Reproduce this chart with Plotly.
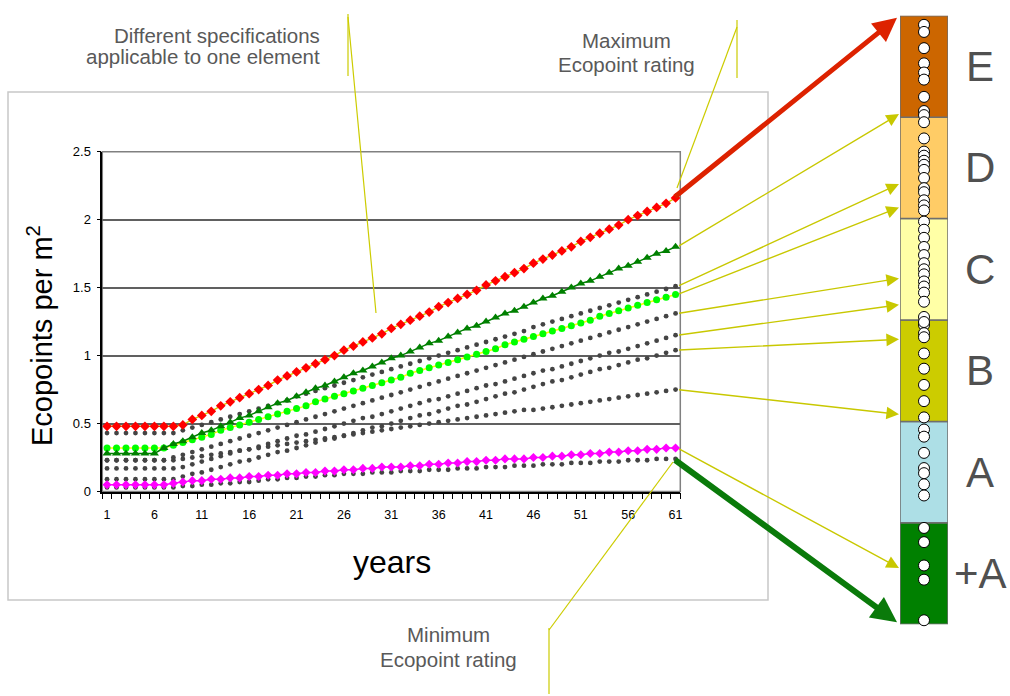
import plotly.graph_objects as go

# ---------------- data ----------------
years = list(range(1, 62))
x_tick_labels = [1, 6, 11, 16, 21, 26, 31, 36, 41, 46, 51, 56, 61]
y_ticks = [0, 0.5, 1, 1.5, 2, 2.5]

red_max = [0.48, 0.48, 0.48, 0.48, 0.48, 0.48, 0.48, 0.48, 0.49, 0.53,
           0.56, 0.59, 0.63, 0.66, 0.69, 0.72, 0.75, 0.78, 0.82, 0.85,
           0.88, 0.91, 0.94, 0.97, 1.00, 1.04, 1.07, 1.10, 1.13, 1.16,
           1.20, 1.23, 1.26, 1.29, 1.32, 1.36, 1.39, 1.42, 1.45, 1.48,
           1.52, 1.55, 1.58, 1.61, 1.64, 1.68, 1.71, 1.74, 1.77, 1.80,
           1.84, 1.87, 1.90, 1.93, 1.96, 2.00, 2.03, 2.06, 2.09, 2.12, 2.16]

green_tri = [0.28, 0.28, 0.28, 0.28, 0.28, 0.28, 0.32, 0.35, 0.37, 0.40,
             0.43, 0.45, 0.48, 0.51, 0.54, 0.56, 0.59, 0.62, 0.65, 0.67,
             0.70, 0.73, 0.76, 0.78, 0.81, 0.84, 0.87, 0.89, 0.92, 0.95,
             0.98, 1.00, 1.03, 1.06, 1.09, 1.11, 1.14, 1.17, 1.20, 1.22,
             1.25, 1.28, 1.31, 1.33, 1.36, 1.39, 1.42, 1.44, 1.47, 1.50,
             1.53, 1.55, 1.58, 1.61, 1.64, 1.66, 1.69, 1.72, 1.75, 1.77, 1.80]

lime_dot = [0.32, 0.32, 0.32, 0.32, 0.32, 0.32, 0.32, 0.34, 0.36, 0.38,
            0.40, 0.42, 0.45, 0.47, 0.49, 0.51, 0.53, 0.55, 0.57, 0.59,
            0.61, 0.63, 0.66, 0.68, 0.70, 0.72, 0.74, 0.76, 0.78, 0.80,
            0.82, 0.84, 0.87, 0.89, 0.91, 0.93, 0.95, 0.97, 0.99, 1.01,
            1.03, 1.05, 1.08, 1.10, 1.12, 1.14, 1.16, 1.18, 1.20, 1.22,
            1.24, 1.26, 1.29, 1.31, 1.33, 1.35, 1.37, 1.39, 1.41, 1.43, 1.45]

magenta_min = [0.05, 0.05, 0.05, 0.05, 0.05, 0.05, 0.05, 0.06, 0.07, 0.08,
               0.08, 0.09, 0.09, 0.10, 0.10, 0.11, 0.11, 0.12, 0.12, 0.13,
               0.13, 0.14, 0.14, 0.15, 0.15, 0.16, 0.16, 0.17, 0.17, 0.18,
               0.18, 0.18, 0.19, 0.19, 0.20, 0.20, 0.21, 0.21, 0.22, 0.22,
               0.23, 0.23, 0.24, 0.24, 0.24, 0.25, 0.25, 0.26, 0.26, 0.27,
               0.27, 0.28, 0.28, 0.29, 0.29, 0.30, 0.30, 0.31, 0.31, 0.32, 0.32]

grey_1 = [0.43, 0.43, 0.43, 0.43, 0.43, 0.43, 0.43, 0.43, 0.45, 0.47,
          0.49, 0.51, 0.53, 0.55, 0.57, 0.59, 0.61, 0.63, 0.65, 0.67,
          0.70, 0.72, 0.74, 0.76, 0.78, 0.80, 0.82, 0.84, 0.86, 0.88,
          0.90, 0.92, 0.94, 0.96, 0.98, 1.00, 1.02, 1.04, 1.06, 1.08,
          1.10, 1.12, 1.14, 1.16, 1.18, 1.21, 1.23, 1.25, 1.27, 1.29,
          1.31, 1.33, 1.35, 1.37, 1.39, 1.41, 1.43, 1.45, 1.47, 1.49, 1.51]

grey_2 = [0.23, 0.23, 0.23, 0.23, 0.23, 0.23, 0.23, 0.25, 0.27, 0.29,
          0.31, 0.33, 0.35, 0.37, 0.39, 0.41, 0.43, 0.45, 0.47, 0.49,
          0.51, 0.53, 0.55, 0.57, 0.59, 0.61, 0.63, 0.65, 0.67, 0.69,
          0.71, 0.73, 0.75, 0.77, 0.79, 0.81, 0.83, 0.85, 0.87, 0.89,
          0.91, 0.93, 0.95, 0.97, 0.99, 1.01, 1.03, 1.05, 1.07, 1.09,
          1.11, 1.13, 1.15, 1.17, 1.19, 1.21, 1.23, 1.25, 1.27, 1.29, 1.31]

grey_3 = [0.17, 0.17, 0.17, 0.17, 0.17, 0.17, 0.17, 0.17, 0.18, 0.20,
          0.22, 0.24, 0.26, 0.28, 0.30, 0.31, 0.33, 0.35, 0.37, 0.39,
          0.41, 0.42, 0.44, 0.46, 0.48, 0.50, 0.52, 0.54, 0.55, 0.57,
          0.59, 0.61, 0.63, 0.65, 0.67, 0.68, 0.70, 0.72, 0.74, 0.76,
          0.78, 0.79, 0.81, 0.83, 0.85, 0.87, 0.89, 0.90, 0.92, 0.94,
          0.96, 0.98, 1.00, 1.02, 1.03, 1.05, 1.07, 1.09, 1.11, 1.13, 1.15]

grey_4 = [0.09, 0.09, 0.09, 0.09, 0.09, 0.09, 0.09, 0.09, 0.11, 0.13,
          0.14, 0.16, 0.18, 0.20, 0.22, 0.23, 0.25, 0.27, 0.29, 0.30,
          0.32, 0.34, 0.36, 0.38, 0.39, 0.41, 0.43, 0.45, 0.47, 0.48,
          0.50, 0.52, 0.54, 0.56, 0.57, 0.59, 0.61, 0.63, 0.64, 0.66,
          0.68, 0.70, 0.72, 0.73, 0.75, 0.77, 0.79, 0.81, 0.82, 0.84,
          0.86, 0.88, 0.90, 0.91, 0.93, 0.95, 0.97, 0.98, 1.00, 1.02, 1.04]

grey_5 = [0.23, 0.23, 0.23, 0.23, 0.23, 0.23, 0.23, 0.23, 0.24, 0.25,
          0.26, 0.27, 0.28, 0.29, 0.30, 0.31, 0.32, 0.33, 0.34, 0.35,
          0.36, 0.37, 0.38, 0.39, 0.40, 0.41, 0.42, 0.43, 0.44, 0.45,
          0.46, 0.47, 0.48, 0.49, 0.50, 0.51, 0.52, 0.53, 0.54, 0.55,
          0.56, 0.57, 0.58, 0.59, 0.60, 0.60, 0.61, 0.62, 0.63, 0.64,
          0.65, 0.66, 0.67, 0.68, 0.69, 0.70, 0.71, 0.72, 0.73, 0.74, 0.75]

grey_6 = [0.03, 0.03, 0.03, 0.03, 0.03, 0.03, 0.03, 0.03, 0.04, 0.04,
          0.05, 0.05, 0.06, 0.06, 0.07, 0.07, 0.08, 0.09, 0.09, 0.10,
          0.10, 0.11, 0.11, 0.12, 0.12, 0.13, 0.13, 0.13, 0.14, 0.14,
          0.14, 0.15, 0.15, 0.15, 0.16, 0.16, 0.16, 0.17, 0.17, 0.17,
          0.18, 0.18, 0.18, 0.19, 0.19, 0.19, 0.20, 0.20, 0.20, 0.21,
          0.21, 0.21, 0.22, 0.22, 0.22, 0.23, 0.23, 0.23, 0.24, 0.24, 0.24]

grey_series = [grey_1, grey_2, grey_3, grey_4, grey_5, grey_6]

# rating scale (bar on the right), one unit per class, bottom to top
classes = ["+A", "A", "B", "C", "D", "E"]
class_colors = ["#008000", "#ADDFE6", "#CCCC00", "#FFFFA6", "#FFCC66", "#CC6600"]

# white circles on the rating scale (rating units)
ratings = [6.03, 5.91, 5.84, 5.68, 5.53, 5.44, 5.37, 5.20, 5.06, 5.02, 4.95,
           4.79, 4.66, 4.62, 4.57, 4.53, 4.48, 4.40, 4.30, 4.26, 4.18, 4.13,
           4.08, 3.97, 3.89, 3.81, 3.72, 3.64, 3.56, 3.50, 3.45, 3.38, 3.33,
           3.27, 3.18, 3.03, 2.95, 2.98, 2.87, 2.83, 2.67, 2.52, 2.36, 2.20,
           2.04, 1.92, 1.85, 1.69, 1.54, 1.49, 1.38, 1.27, 0.95, 0.81, 0.58,
           0.44, 0.04]

# where each series' arrow lands on the rating scale (rating units)
thin_arrow_ends = [(green_tri, 5.03), (grey_1, 4.34), (lime_dot, 4.11),
                   (grey_2, 3.41), (grey_3, 3.15), (grey_4, 2.81),
                   (grey_5, 2.07), (magenta_min, 0.555)]
max_arrow_end = 5.98
min_arrow_end = 0.02

# ---------------- layout geometry ----------------
W, H = 1010, 696
PX0, PX1 = 102.3, 680.3      # main plot x pixels
PY0, PY1 = 491.5, 151.7      # main plot y pixels (0 and 2.5)
BX0, BX1 = 900.0, 948.0      # rating bar x pixels
BY0, BY1 = 624.3, 15.7       # rating bar y pixels (0 and 6)
XR = [0.5, 61.5]
YR = [0, 2.5]
BR = [0, 6]


def main_px(k, v):
    return (PX0 + (k - XR[0]) / (XR[1] - XR[0]) * (PX1 - PX0),
            PY0 - (v - YR[0]) / (YR[1] - YR[0]) * (PY0 - PY1))


def bar_py(r):
    return BY0 - (r - BR[0]) / (BR[1] - BR[0]) * (BY0 - BY1)


def px(x):
    return x / W


def py(y):
    return 1 - y / H


FONT = "Arial, Liberation Sans, sans-serif"
GREY_TXT = "#595959"
CALLOUT = "#CCCC00"

fig = go.Figure()

# grey dotted series
for g in grey_series:
    fig.add_trace(go.Scatter(x=years, y=g, mode="markers",
                             marker=dict(color="#444444", size=4.8),
                             xaxis="x", yaxis="y", showlegend=False))

fig.add_trace(go.Scatter(x=years, y=magenta_min, mode="lines+markers",
                         line=dict(color="#FF00FF", width=1.5),
                         marker=dict(symbol="diamond", color="#FF00FF", size=7),
                         showlegend=False))
fig.add_trace(go.Scatter(x=years, y=lime_dot, mode="lines+markers",
                         line=dict(color="#FFFF00", width=1.5),
                         marker=dict(symbol="circle", color="#00FF00", size=7),
                         showlegend=False))
fig.add_trace(go.Scatter(x=years, y=green_tri, mode="lines+markers",
                         line=dict(color="#008000", width=1.5),
                         marker=dict(symbol="triangle-up", color="#008000", size=8),
                         showlegend=False))
fig.add_trace(go.Scatter(x=years, y=red_max, mode="lines+markers",
                         line=dict(color="#D8C800", width=1.5),
                         marker=dict(symbol="diamond", color="#FF0000", size=7.5),
                         showlegend=False))

# rating bar
fig.add_trace(go.Bar(x=[0.5] * len(classes), y=[1] * len(classes),
                     base=list(range(len(classes))), width=1,
                     marker=dict(color=class_colors,
                                 line=dict(color="#6e6e6e", width=1.5)),
                     xaxis="x2", yaxis="y2", showlegend=False))
fig.add_trace(go.Scatter(x=[0.5] * len(ratings), y=ratings, mode="markers",
                         marker=dict(color="white", size=11,
                                     line=dict(color="black", width=1)),
                         xaxis="x2", yaxis="y2", cliponaxis=False,
                         showlegend=False))

shapes = []
# outer chart box
shapes.append(dict(type="rect", xref="paper", yref="paper",
                   x0=px(8), x1=px(768), y0=py(600), y1=py(92),
                   line=dict(color="#C8C8C8", width=1.5), layer="below",
                   fillcolor="white"))
# plot area border
shapes.append(dict(type="rect", xref="x domain", yref="y domain",
                   x0=0, x1=1, y0=0, y1=1,
                   line=dict(color="#808080", width=1.5), layer="below"))

# callout lines
callouts = [((348, 14), (348, 76)), ((348, 17), (376, 313)),
            ((737, 20), (737, 78)), ((737, 27), (677, 188)),
            ((549, 628), (549, 694)), ((549, 630), (673, 462))]
for (a, b) in callouts:
    shapes.append(dict(type="line", xref="paper", yref="paper",
                       x0=px(a[0]), y0=py(a[1]), x1=px(b[0]), y1=py(b[1]),
                       line=dict(color=CALLOUT, width=1.2)))

annotations = []


def arrow(tail, head, color, width, size):
    return dict(x=px(head[0]), y=py(head[1]), xref="paper", yref="paper",
                ax=tail[0] - head[0], ay=tail[1] - head[1],
                axref="pixel", ayref="pixel", text="", showarrow=True,
                arrowhead=2, arrowsize=size, arrowwidth=width,
                arrowcolor=color, standoff=0, startstandoff=0)


for series, r in thin_arrow_ends:
    tx, ty = main_px(61, series[-1])
    annotations.append(arrow((tx + 2, ty), (BX0 - 1, bar_py(r)),
                             "#C8C800", 1.4, 1.8))

tx, ty = main_px(61, red_max[-1])
annotations.append(arrow((tx - 2, ty), (BX0 - 3, bar_py(max_arrow_end)),
                         "#DD2200", 5, 0.95))
tx, ty = main_px(61, grey_6[-1])
annotations.append(arrow((tx - 2, ty), (BX0 - 3, bar_py(min_arrow_end)),
                         "#0A7A0A", 6, 0.85))


def label(text, x, y, size, color, angle=0, yref="paper", anchor="center"):
    return dict(text=text, x=px(x), y=(py(y) if yref == "paper" else y),
                xref="paper", yref=yref, xanchor=anchor, yanchor="middle",
                textangle=angle, showarrow=False,
                font=dict(family=FONT, size=size, color=color))


annotations.append(label("Different specifications", 322, 35, 20.5, GREY_TXT, anchor="right"))
annotations.append(label("applicable to one element", 322, 57, 20.5, GREY_TXT, anchor="right"))
annotations.append(label("Maximum", 626, 40, 20.5, GREY_TXT))
annotations.append(label("Ecopoint rating", 626, 64, 20.5, GREY_TXT))
annotations.append(label("Minimum", 448, 634, 20.5, GREY_TXT))
annotations.append(label("Ecopoint rating", 448, 659, 20.5, GREY_TXT))
annotations.append(label("Ecopoints per m<sup>2</sup>", 40, 336, 29, "black", angle=-90))
annotations.append(label("years", 392, 562, 32, "black"))
for i, c in enumerate(classes):
    annotations.append(label(c, 980, i + 0.5, 42, "#505050", yref="y2"))

fig.update_layout(
    width=W, height=H,
    margin=dict(l=0, r=0, t=0, b=0, pad=0, autoexpand=False),
    autosize=False,
    paper_bgcolor="white", plot_bgcolor="rgba(0,0,0,0)",
    font=dict(family=FONT, color="black"),
    xaxis=dict(domain=[px(PX0), px(PX1)], range=XR, tickmode="array",
               automargin=False,
               tickvals=x_tick_labels, ticktext=[str(v) for v in x_tick_labels],
               ticks="", showgrid=False, zeroline=False,
               showline=True, linecolor="black", linewidth=1.5,
               tickfont=dict(family=FONT, size=12.5, color="black"),
               ticklabelstandoff=11,
               minor=dict(tickmode="linear", tick0=0.5, dtick=1, ticks="outside",
                          ticklen=6, tickcolor="black", tickwidth=1, showgrid=False)),
    yaxis=dict(domain=[py(PY0), py(PY1)], range=YR, tickmode="array",
               automargin=False,
               tickvals=y_ticks, ticktext=["0", "0.5", "1", "1.5", "2", "2.5"],
               ticks="outside", ticklen=4, tickcolor="black",
               ticklabelstandoff=3,
               showgrid=True, gridcolor="#606060", gridwidth=1.5, zeroline=False,
               showline=True, linecolor="black", linewidth=1.5,
               tickfont=dict(family=FONT, size=13, color="black")),
    xaxis2=dict(domain=[px(BX0), px(BX1)], range=[0, 1], visible=False,
                automargin=False, anchor="y2"),
    yaxis2=dict(domain=[py(BY0), py(BY1)], range=BR, visible=False,
                automargin=False, anchor="x2"),
    shapes=shapes, annotations=annotations,
)

fig.write_html("out.html", config={"displayModeBar": False},
               post_script="document.body.style.margin='0';"
                           "document.body.style.overflow='hidden';")
